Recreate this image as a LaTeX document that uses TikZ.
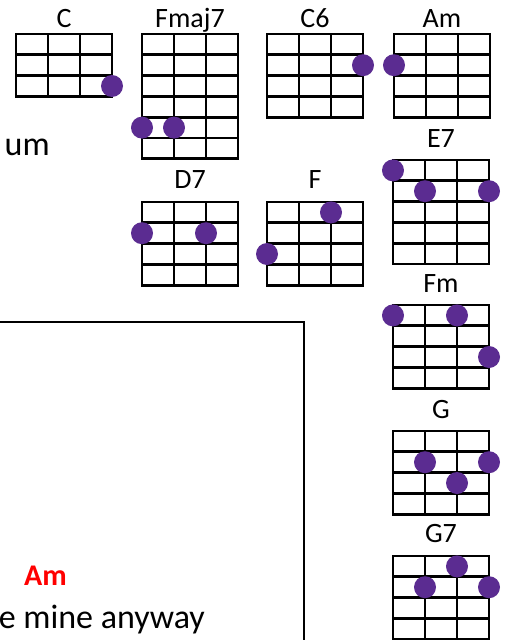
\documentclass[tikz,border=0pt]{standalone}
\usepackage{fontspec}
\setmainfont{Carlito}
\definecolor{dotpurple}{RGB}{91,44,145}
\definecolor{chordred}{RGB}{255,0,0}
\tikzset{
  gridline/.style={line width=2.8pt, draw=black, line cap=rect},
  boxline/.style={line width=2.6pt, draw=black, line cap=rect},
  fingerdot/.style={fill=dotpurple},
  chordlabel/.style={font=\fontsize{28}{30}\selectfont, anchor=base, inner sep=0pt},
  lyric/.style={font=\fontsize{34}{38}\selectfont, inner sep=0pt},
  chordname/.style={font=\fontsize{30}{32}\selectfont\bfseries, text=chordred, inner sep=0pt},
}
% #1 node name, #2 x0, #3 y0, #4 rows, #5 label, #6 label baseline, #7 dots string/fret
\newcommand{\ukechord}[7]{%
  \node[chordlabel] (#1) at ({#2+48},#6) {#5};
  \foreach \i in {0,...,3}
    \draw[gridline] ({#2+\i*32},#3) -- ({#2+\i*32},{#3+#4*20.8});
  \foreach \j in {0,...,#4}
    \draw[gridline] (#2,{#3+\j*20.8}) -- ({#2+96},{#3+\j*20.8});
  \foreach \s/\f in {#7}
    \fill[fingerdot] ({#2+(\s-1)*32},{#3+(\f-0.5)*20.8}) circle[radius=11pt];
}
\begin{document}
\begin{tikzpicture}[x=1pt,y=-1pt]
  \useasboundingbox (0,0) rectangle (506,640);
  \clip (0,0) rectangle (506,640);
  % chord diagrams
  \ukechord{chC}{16}{34}{3}{C}{27}{4/3}
  \ukechord{chFmaj}{142}{34}{6}{Fmaj7}{27}{1/5,2/5}
  \ukechord{chCsix}{267}{34}{4}{C6}{27}{4/2}
  \ukechord{chAm}{394}{34}{4}{Am}{27}{1/2}
  \ukechord{chEseven}{393}{160}{5}{E7}{147}{1/1,2/2,4/2}
  \ukechord{chDseven}{142}{202}{4}{D7}{188}{1/2,3/2}
  \ukechord{chF}{267}{202}{4}{F}{188}{3/1,1/3}
  \ukechord{chFm}{393}{305}{4}{Fm}{292}{1/1,3/1,4/3}
  \ukechord{chG}{393}{431}{4}{G}{418}{2/2,4/2,3/3}
  \ukechord{chGseven}{393}{556}{4}{G7}{542}{3/1,2/2,4/2}
  % lyric box
  \draw[boxline] (-10,322) -- (304,322) -- (304,660);
  % texts
  \node[lyric, anchor=base west] (um) at (4.5,155) {um};
  \node[chordname, anchor=base west] (amlbl) at (24,585) {Am};
  \node[lyric, anchor=base east] (line) at (205,628) {e mine anyway};
\end{tikzpicture}
\end{document}
